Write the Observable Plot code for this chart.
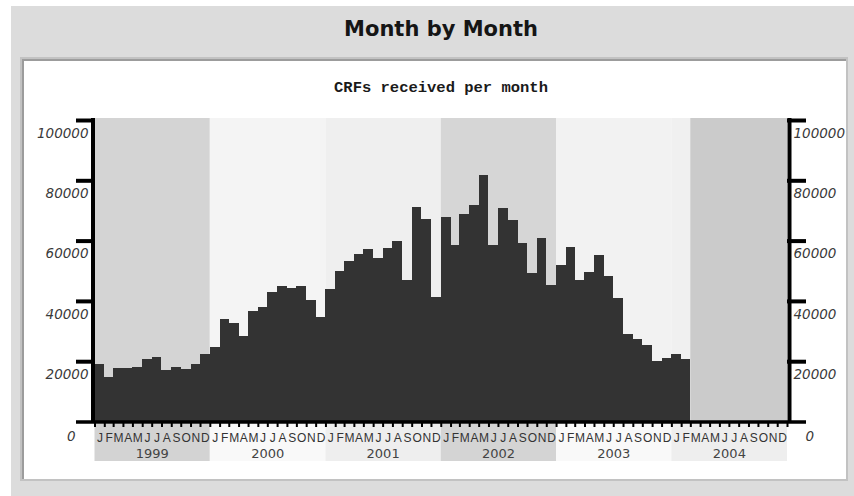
<!DOCTYPE html>
<html>
<head>
<meta charset="utf-8">
<script src="https://cdn.jsdelivr.net/npm/d3@7"></script>
<script src="https://cdn.jsdelivr.net/npm/@observablehq/plot@0.6"></script>
<style>
  html, body { margin: 0; padding: 0; background: #ffffff; }
  body { width: 854px; height: 496px; position: relative; overflow: hidden; font-family: "DejaVu Sans", sans-serif; }
  #frame { position: absolute; left: 11px; top: 6px; width: 843px; height: 490px; background: #dcdcdc; }
  #panel { position: absolute; left: 20px; top: 57px; width: 824px; height: 420px; background: #ffffff;
           border: 2px solid #c2c2c2; box-shadow: inset 2px 2px 0 #9c9c9c; }
  #title { position: absolute; left: 241px; width: 400px; top: 17px; text-align: center;
           font-family: "DejaVu Sans", sans-serif; font-weight: bold; font-size: 21px; color: #151515; }
  #subtitle { position: absolute; left: 241px; width: 400px; top: 79px; text-align: center;
              font-family: "Liberation Mono", "Courier New", monospace; font-weight: bold; font-size: 15.5px; color: #1a1a1a; }
  #chart { position: absolute; left: 0; top: 0; }
</style>
</head>
<body>
<div id="frame"></div>
<div id="panel"></div>
<div id="title">Month by Month</div>
<div id="subtitle">CRFs received per month</div>
<div id="chart"></div>
<script>
// ---- data ----
const years = [1999, 2000, 2001, 2002, 2003, 2004];
const monthLetters = ["J", "F", "M", "A", "M", "J", "J", "A", "S", "O", "N", "D"];
// CRFs received per month, Jan 1999 .. Feb 2004
const crfs1999 = [19000, 14600, 17900, 17900, 18200, 20700, 21400, 17000, 18200, 17300, 19000, 22300];
const crfs2000 = [24800, 34000, 32600, 28400, 36600, 37900, 43100, 44800, 44300, 45100, 40300, 34800];
const crfs2001 = [44000, 49900, 53200, 55700, 57100, 54300, 57700, 59900, 46800, 71200, 67300, 41200];
const crfs2002 = [67700, 58400, 68800, 71800, 81600, 58400, 70900, 66800, 59300, 49200, 61000, 45400];
const crfs2003 = [52000, 58000, 46800, 49600, 55100, 48400, 40900, 29000, 27300, 25400, 20100, 21000];
const crfs2004 = [22300, 20700];
const yTicks = [20000, 40000, 60000, 80000, 100000];

// ---- styles ----
const plotBandColors = ["#d4d4d4", "#f4f4f4", "#efefef", "#d6d6d6", "#f2f2f2", "#f0f0f0"];
const labelBandColors = ["#d3d3d3", "#f9f9f9", "#eeeeee", "#d4d4d4", "#f9f9f9", "#eeeeee"];
const noDataColor = "#cbcbcb";
const barColor = "#333333";

// ---- derived tables ----
const crfs = [...crfs1999, ...crfs2000, ...crfs2001, ...crfs2002, ...crfs2003, ...crfs2004];
const y0 = years[0];
const monthStart = i => new Date(Date.UTC(y0, i, 1));
const bars = crfs.map((v, i) => ({start: monthStart(i), end: monthStart(i + 1), value: v}));
const allMonths = d3.range(years.length * 12).map(i => ({
  start: monthStart(i), end: monthStart(i + 1),
  mid: new Date((+monthStart(i) + +monthStart(i + 1)) / 2),
  letter: monthLetters[i % 12]
}));
const boundaries = d3.range(years.length * 12 + 1).map(i => monthStart(i));
const yearRows = years.map((yr, k) => ({
  year: String(yr),
  start: new Date(Date.UTC(yr, 0, 1)), end: new Date(Date.UTC(yr + 1, 0, 1)),
  mid: new Date(Date.UTC(yr, 6, 1)),
  plotFill: plotBandColors[k], labelFill: labelBandColors[k]
}));
const xStart = monthStart(0), xEnd = monthStart(years.length * 12);
const noData = [{start: monthStart(crfs.length), end: xEnd}];

const labelFont = "DejaVu Sans";
const chart = Plot.plot({
  width: 854,
  height: 496,
  marginTop: 120,
  marginBottom: 74.5,
  marginLeft: 94.5,
  marginRight: 67,
  style: {background: "transparent", overflow: "visible"},
  x: {type: "utc", domain: [xStart, xEnd], axis: null},
  y: {domain: [0, 100000], axis: null},
  marks: [
    // year background bands in plot
    Plot.rect(yearRows, {x1: "start", x2: "end", y1: 0, y2: 100000, fill: "plotFill", insetTop: -2}),
    Plot.rect(noData, {x1: "start", x2: "end", y1: 0, y2: 100000, fill: noDataColor, insetTop: -2}),
    // year label bands under axis
    Plot.rect(yearRows, {x1: "start", x2: "end", y1: 0, y2: 0, fill: "labelFill", insetTop: 2.5, insetBottom: -39.5}),
    // bars
    Plot.rectY(bars, {x1: "start", x2: "end", y: "value", fill: barColor, shapeRendering: "crispEdges"}),
    // month ticks under x axis
    Plot.ruleX(boundaries, {x: d => d, y1: 0, y2: 0, insetBottom: -5.5, stroke: "#000", strokeWidth: 2}),
    // axis lines
    Plot.ruleX([xStart], {x: d => d, dx: -2, stroke: "#000", strokeWidth: 4, insetTop: -2}),
    Plot.ruleX([xEnd], {x: d => d, dx: 2, stroke: "#000", strokeWidth: 4, insetTop: -2}),
    Plot.ruleY([0], {y: d => d, stroke: "#000", strokeWidth: 3.5, insetLeft: -18.5, insetRight: -19}),
    // y ticks
    Plot.ruleY(yTicks, {y: d => d, x1: xStart, x2: xStart, insetLeft: -18.5, stroke: "#000", strokeWidth: 4}),
    Plot.ruleY(yTicks, {y: d => d, x1: xEnd, x2: xEnd, insetRight: -19, stroke: "#000", strokeWidth: 4}),
    // y tick labels
    Plot.text(yTicks, {x: xStart, y: d => d, text: d => String(d), textAnchor: "end", dx: -6.5, dy: 13,
      fontFamily: labelFont, fontStyle: "italic", fontSize: 13.5, fill: "#3a3a3a"}),
    Plot.text(yTicks, {x: xEnd, y: d => d, text: d => String(d), textAnchor: "start", dx: 6, dy: 13,
      fontFamily: labelFont, fontStyle: "italic", fontSize: 13.5, fill: "#3a3a3a"}),
    Plot.text([0], {x: xStart, y: d => d, text: d => String(d), textAnchor: "end", dx: -19.5, dy: 14.5,
      fontFamily: labelFont, fontStyle: "italic", fontSize: 13.5, fill: "#3a3a3a"}),
    Plot.text([0], {x: xEnd, y: d => d, text: d => String(d), textAnchor: "start", dx: 18, dy: 14.5,
      fontFamily: labelFont, fontStyle: "italic", fontSize: 13.5, fill: "#3a3a3a"}),
    // month letters
    Plot.text(allMonths, {x: "mid", y: 0, text: "letter", dy: 16, fontFamily: "Liberation Sans", fontSize: 12, fill: "#333"}),
    // year labels
    Plot.text(yearRows, {x: "mid", y: 0, text: "year", dy: 32, fontFamily: labelFont, fontSize: 13, fill: "#444"})
  ]
});
document.getElementById("chart").appendChild(chart);
</script>
</body>
</html>
